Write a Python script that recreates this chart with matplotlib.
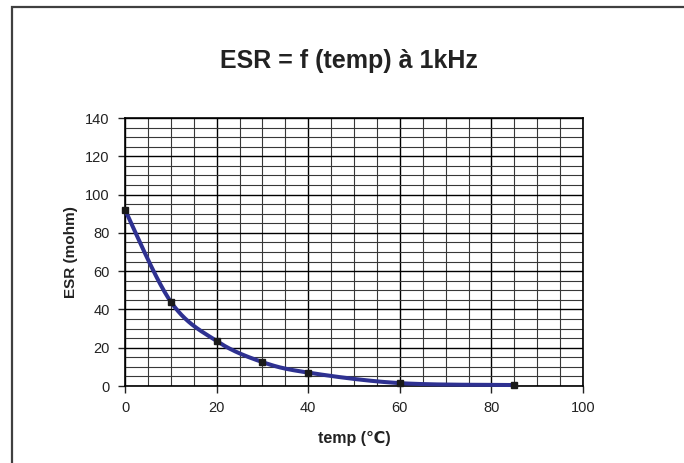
import numpy as np
import matplotlib
matplotlib.use("Agg")
import matplotlib.pyplot as plt
from matplotlib.patches import Rectangle
from matplotlib.ticker import MultipleLocator

plt.rcParams['font.family'] = ['Liberation Sans', 'DejaVu Sans']

# data
temp = [0, 10, 20, 30, 40, 60, 85]
esr = [92, 44, 23.5, 12.5, 7, 1.5, 0.5]


def smooth(xs, ys, n=40):
    '''
    Excel-like smoothed line: cubic Bezier segments with Catmull-Rom control points
    '''
    pts = np.column_stack([xs, ys]).astype(float)
    ext = np.vstack([pts[0], pts, pts[-1]])
    out = []
    t = np.linspace(0, 1, n)[:, None]
    for i in range(1, len(ext) - 2):
        p0, p1, p2, p3 = ext[i - 1], ext[i], ext[i + 1], ext[i + 2]
        c1 = p1 + (p2 - p0) / 6
        c2 = p2 - (p3 - p1) / 6
        seg = ((1 - t) ** 3) * p1 + 3 * ((1 - t) ** 2) * t * c1 + 3 * (1 - t) * t ** 2 * c2 + t ** 3 * p2
        out.append(seg)
    out = np.vstack(out)
    return out[:, 0], out[:, 1]


fig = plt.figure(figsize=(6.84, 4.63), dpi=100)
ax = fig.add_axes([125 / 684, 1 - 386 / 463, 458 / 684, 268 / 463])

# chart border (runs off the right and bottom edges)
fig.patches.append(Rectangle((11.5 / 684, -0.1), 1.2, 1 - 6.5 / 463 + 0.1,
                             transform=fig.transFigure, fill=False,
                             edgecolor='#404040', linewidth=1.6))

ax.set_xlim(0, 100)
ax.set_ylim(0, 140)
ax.xaxis.set_major_locator(MultipleLocator(20))
ax.xaxis.set_minor_locator(MultipleLocator(5))
ax.yaxis.set_major_locator(MultipleLocator(20))
ax.yaxis.set_minor_locator(MultipleLocator(5))
ax.grid(which='major', color='black', linewidth=1.0)
ax.grid(which='minor', color='#383838', linewidth=0.8)
ax.set_axisbelow(True)
ax.tick_params(which='major', direction='out', length=5, width=1, labelsize=10.5,
               colors='#222222', pad=6)
ax.tick_params(which='minor', length=0)
for s in ax.spines.values():
    s.set_color('black')
    s.set_linewidth(1.2)

sx, sy = smooth(temp, esr)
ax.plot(sx, sy, color='#2e3191', linewidth=2.9, solid_capstyle='round', zorder=3, clip_on=False)
ax.plot(temp, esr, linestyle='none', marker='s', markersize=4, color='#1a1a1a', zorder=4, clip_on=False)

ax.set_xlabel('temp (\u2103)', fontsize=11.5, fontweight='bold', labelpad=11, color='#222222')
ax.set_ylabel('ESR (mohm)', fontsize=11, fontweight='bold', labelpad=5, color='#222222')
fig.text(349 / 684, 1 - 61 / 463, 'ESR = f (temp) \u00e0 1kHz', ha='center', va='center',
         fontsize=18, fontweight='bold', color='#222222')

fig.savefig('out.png', dpi=100)
